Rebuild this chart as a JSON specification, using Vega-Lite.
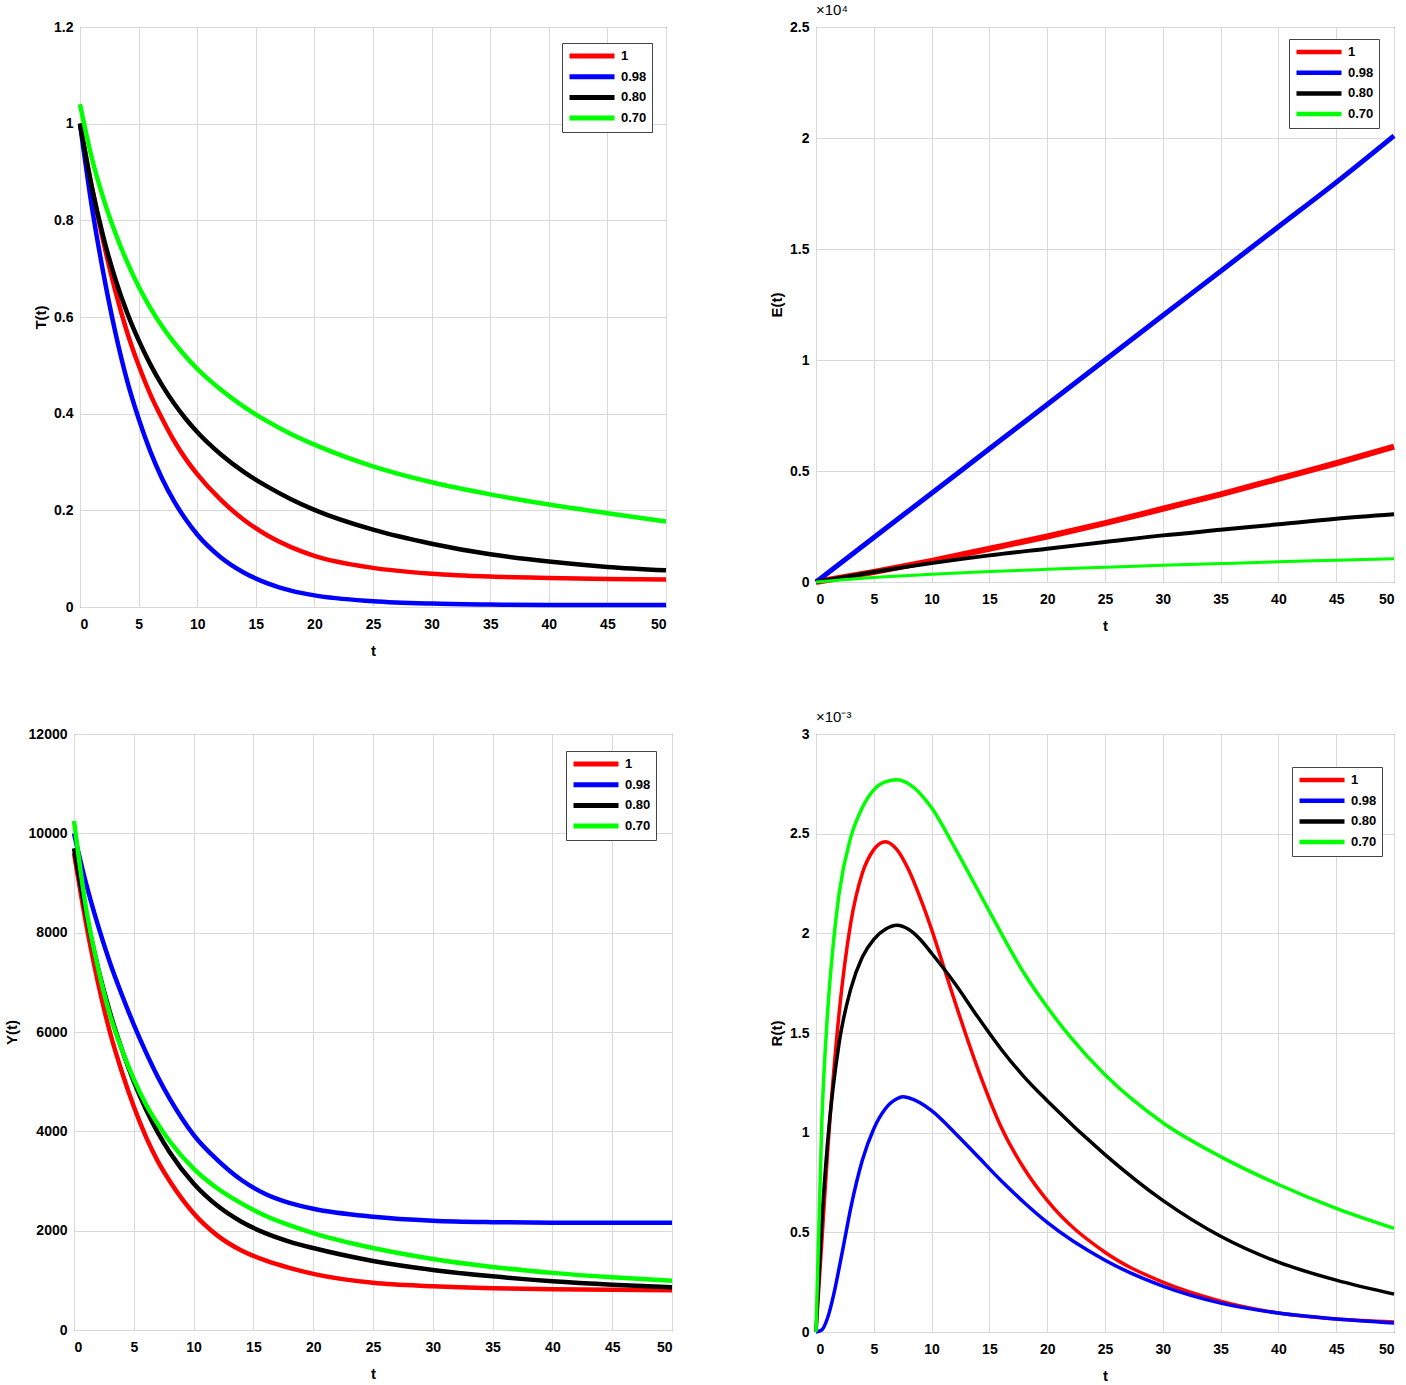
{
  "$schema": "https://vega.github.io/schema/vega-lite/v6.json",
  "padding": {"left": 3, "top": 2, "right": 5, "bottom": 2},
  "background": "white",
  "columns": 2,
  "bounds": "flush",
  "center": {"column": true, "row": false},
  "spacing": {"column": 144, "row": 127},
  "resolve": {"scale": {"color": "independent"}, "legend": {"color": "independent"}},
  "config": {
    "font": "Liberation Sans",
    "view": {"stroke": "#333333", "strokeWidth": 1},
    "axis": {
      "labelFont": "Liberation Sans", "labelFontSize": 14, "labelFontWeight": "bold", "labelColor": "#000000",
      "titleFont": "Liberation Sans", "titleFontSize": 15, "titleFontWeight": "bold", "titleColor": "#000000",
      "gridColor": "#d9d9d9", "gridWidth": 1, "domain": false, "ticks": false
    },
    "axisX": {"labelPadding": 10, "titlePadding": 12},
    "axisY": {"labelPadding": 7, "titlePadding": 5},
    "title": {"font": "Liberation Sans", "fontSize": 15, "fontWeight": "normal", "anchor": "start", "frame": "group", "offset": 2, "color": "#000000"},
    "legend": {
      "orient": "none", "strokeColor": "#444444", "fillColor": "white", "padding": 5, "cornerRadius": 0,
      "symbolType": "stroke", "symbolSize": 2025, "symbolStrokeWidth": 5,
      "labelFont": "Liberation Sans", "labelFontSize": 13, "labelFontWeight": "bold", "labelColor": "#000000",
      "clipHeight": 16, "rowPadding": 4.7, "labelOffset": 4
    }
  },
  "datasets": {
    "T": [
      {"t":0,"alpha":"1","T":1.0},{"t":1,"alpha":"1","T":0.87},{"t":2,"alpha":"1","T":0.755},{"t":3,"alpha":"1","T":0.655},{"t":4,"alpha":"1","T":0.57},{"t":5,"alpha":"1","T":0.5},{"t":6,"alpha":"1","T":0.44},{"t":7,"alpha":"1","T":0.39},{"t":8,"alpha":"1","T":0.345},{"t":9,"alpha":"1","T":0.307},{"t":10,"alpha":"1","T":0.275},{"t":12,"alpha":"1","T":0.222},{"t":14,"alpha":"1","T":0.18},{"t":16,"alpha":"1","T":0.148},{"t":18,"alpha":"1","T":0.124},{"t":20,"alpha":"1","T":0.106},{"t":25,"alpha":"1","T":0.081},{"t":30,"alpha":"1","T":0.069},{"t":35,"alpha":"1","T":0.063},{"t":40,"alpha":"1","T":0.06},{"t":45,"alpha":"1","T":0.058},{"t":50,"alpha":"1","T":0.057},
      {"t":0,"alpha":"0.98","T":1.0},{"t":1,"alpha":"0.98","T":0.83},{"t":2,"alpha":"0.98","T":0.69},{"t":3,"alpha":"0.98","T":0.57},{"t":4,"alpha":"0.98","T":0.47},{"t":5,"alpha":"0.98","T":0.39},{"t":6,"alpha":"0.98","T":0.322},{"t":7,"alpha":"0.98","T":0.266},{"t":8,"alpha":"0.98","T":0.22},{"t":9,"alpha":"0.98","T":0.182},{"t":10,"alpha":"0.98","T":0.15},{"t":12,"alpha":"0.98","T":0.103},{"t":14,"alpha":"0.98","T":0.071},{"t":16,"alpha":"0.98","T":0.049},{"t":18,"alpha":"0.98","T":0.034},{"t":20,"alpha":"0.98","T":0.024},{"t":25,"alpha":"0.98","T":0.012},{"t":30,"alpha":"0.98","T":0.007},{"t":35,"alpha":"0.98","T":0.005},{"t":40,"alpha":"0.98","T":0.004},{"t":45,"alpha":"0.98","T":0.004},{"t":50,"alpha":"0.98","T":0.004},
      {"t":0,"alpha":"0.80","T":1.0},{"t":1,"alpha":"0.80","T":0.87},{"t":2,"alpha":"0.80","T":0.765},{"t":3,"alpha":"0.80","T":0.68},{"t":4,"alpha":"0.80","T":0.61},{"t":5,"alpha":"0.80","T":0.552},{"t":6,"alpha":"0.80","T":0.502},{"t":7,"alpha":"0.80","T":0.459},{"t":8,"alpha":"0.80","T":0.422},{"t":9,"alpha":"0.80","T":0.39},{"t":10,"alpha":"0.80","T":0.362},{"t":12,"alpha":"0.80","T":0.316},{"t":14,"alpha":"0.80","T":0.279},{"t":16,"alpha":"0.80","T":0.249},{"t":18,"alpha":"0.80","T":0.223},{"t":20,"alpha":"0.80","T":0.201},{"t":25,"alpha":"0.80","T":0.16},{"t":30,"alpha":"0.80","T":0.131},{"t":35,"alpha":"0.80","T":0.109},{"t":40,"alpha":"0.80","T":0.094},{"t":45,"alpha":"0.80","T":0.083},{"t":50,"alpha":"0.80","T":0.076},
      {"t":0,"alpha":"0.70","T":1.04},{"t":1,"alpha":"0.70","T":0.93},{"t":2,"alpha":"0.70","T":0.845},{"t":3,"alpha":"0.70","T":0.775},{"t":4,"alpha":"0.70","T":0.715},{"t":5,"alpha":"0.70","T":0.663},{"t":6,"alpha":"0.70","T":0.619},{"t":7,"alpha":"0.70","T":0.581},{"t":8,"alpha":"0.70","T":0.548},{"t":9,"alpha":"0.70","T":0.519},{"t":10,"alpha":"0.70","T":0.493},{"t":12,"alpha":"0.70","T":0.45},{"t":14,"alpha":"0.70","T":0.414},{"t":16,"alpha":"0.70","T":0.384},{"t":18,"alpha":"0.70","T":0.358},{"t":20,"alpha":"0.70","T":0.336},{"t":25,"alpha":"0.70","T":0.291},{"t":30,"alpha":"0.70","T":0.258},{"t":35,"alpha":"0.70","T":0.233},{"t":40,"alpha":"0.70","T":0.212},{"t":45,"alpha":"0.70","T":0.194},{"t":50,"alpha":"0.70","T":0.177}
    ],
    "E": [
      {"t":0,"alpha":"1","E":0},{"t":5,"alpha":"1","E":0.045},{"t":10,"alpha":"1","E":0.095},{"t":15,"alpha":"1","E":0.15},{"t":20,"alpha":"1","E":0.205},{"t":25,"alpha":"1","E":0.265},{"t":30,"alpha":"1","E":0.33},{"t":35,"alpha":"1","E":0.395},{"t":40,"alpha":"1","E":0.465},{"t":45,"alpha":"1","E":0.535},{"t":50,"alpha":"1","E":0.61},
      {"t":0,"alpha":"0.98","E":0},{"t":5,"alpha":"0.98","E":0.2},{"t":10,"alpha":"0.98","E":0.4},{"t":15,"alpha":"0.98","E":0.6},{"t":20,"alpha":"0.98","E":0.8},{"t":25,"alpha":"0.98","E":1.0},{"t":30,"alpha":"0.98","E":1.2},{"t":35,"alpha":"0.98","E":1.4},{"t":40,"alpha":"0.98","E":1.6},{"t":45,"alpha":"0.98","E":1.8},{"t":50,"alpha":"0.98","E":2.01},
      {"t":0,"alpha":"0.80","E":0},{"t":5,"alpha":"0.80","E":0.045},{"t":10,"alpha":"0.80","E":0.085},{"t":15,"alpha":"0.80","E":0.12},{"t":20,"alpha":"0.80","E":0.15},{"t":25,"alpha":"0.80","E":0.18},{"t":30,"alpha":"0.80","E":0.21},{"t":35,"alpha":"0.80","E":0.235},{"t":40,"alpha":"0.80","E":0.26},{"t":45,"alpha":"0.80","E":0.285},{"t":50,"alpha":"0.80","E":0.305},
      {"t":0,"alpha":"0.70","E":0},{"t":5,"alpha":"0.70","E":0.02},{"t":10,"alpha":"0.70","E":0.035},{"t":15,"alpha":"0.70","E":0.047},{"t":20,"alpha":"0.70","E":0.057},{"t":25,"alpha":"0.70","E":0.066},{"t":30,"alpha":"0.70","E":0.075},{"t":35,"alpha":"0.70","E":0.083},{"t":40,"alpha":"0.70","E":0.091},{"t":45,"alpha":"0.70","E":0.098},{"t":50,"alpha":"0.70","E":0.105}
    ],
    "Y": [
      {"t":0,"alpha":"1","Y":9600},{"t":1,"alpha":"1","Y":8200},{"t":2,"alpha":"1","Y":7000},{"t":3,"alpha":"1","Y":6000},{"t":4,"alpha":"1","Y":5200},{"t":5,"alpha":"1","Y":4500},{"t":6,"alpha":"1","Y":3900},{"t":7,"alpha":"1","Y":3400},{"t":8,"alpha":"1","Y":3000},{"t":10,"alpha":"1","Y":2350},{"t":12,"alpha":"1","Y":1900},{"t":14,"alpha":"1","Y":1600},{"t":16,"alpha":"1","Y":1400},{"t":18,"alpha":"1","Y":1250},{"t":20,"alpha":"1","Y":1130},{"t":25,"alpha":"1","Y":950},{"t":30,"alpha":"1","Y":880},{"t":35,"alpha":"1","Y":840},{"t":40,"alpha":"1","Y":820},{"t":45,"alpha":"1","Y":810},{"t":50,"alpha":"1","Y":800},
      {"t":0,"alpha":"0.98","Y":10000},{"t":1,"alpha":"0.98","Y":9000},{"t":2,"alpha":"0.98","Y":8150},{"t":3,"alpha":"0.98","Y":7400},{"t":4,"alpha":"0.98","Y":6750},{"t":5,"alpha":"0.98","Y":6150},{"t":6,"alpha":"0.98","Y":5600},{"t":7,"alpha":"0.98","Y":5100},{"t":8,"alpha":"0.98","Y":4660},{"t":9,"alpha":"0.98","Y":4270},{"t":10,"alpha":"0.98","Y":3930},{"t":12,"alpha":"0.98","Y":3420},{"t":14,"alpha":"0.98","Y":3020},{"t":16,"alpha":"0.98","Y":2740},{"t":18,"alpha":"0.98","Y":2560},{"t":20,"alpha":"0.98","Y":2440},{"t":25,"alpha":"0.98","Y":2280},{"t":30,"alpha":"0.98","Y":2200},{"t":35,"alpha":"0.98","Y":2170},{"t":40,"alpha":"0.98","Y":2160},{"t":45,"alpha":"0.98","Y":2160},{"t":50,"alpha":"0.98","Y":2160},
      {"t":0,"alpha":"0.80","Y":9700},{"t":1,"alpha":"0.80","Y":8400},{"t":2,"alpha":"0.80","Y":7300},{"t":3,"alpha":"0.80","Y":6400},{"t":4,"alpha":"0.80","Y":5650},{"t":5,"alpha":"0.80","Y":5000},{"t":6,"alpha":"0.80","Y":4450},{"t":7,"alpha":"0.80","Y":3980},{"t":8,"alpha":"0.80","Y":3580},{"t":10,"alpha":"0.80","Y":2950},{"t":12,"alpha":"0.80","Y":2500},{"t":14,"alpha":"0.80","Y":2180},{"t":16,"alpha":"0.80","Y":1950},{"t":18,"alpha":"0.80","Y":1780},{"t":20,"alpha":"0.80","Y":1650},{"t":25,"alpha":"0.80","Y":1390},{"t":30,"alpha":"0.80","Y":1210},{"t":35,"alpha":"0.80","Y":1080},{"t":40,"alpha":"0.80","Y":980},{"t":45,"alpha":"0.80","Y":910},{"t":50,"alpha":"0.80","Y":860},
      {"t":0,"alpha":"0.70","Y":10250},{"t":1,"alpha":"0.70","Y":8500},{"t":2,"alpha":"0.70","Y":7300},{"t":3,"alpha":"0.70","Y":6350},{"t":4,"alpha":"0.70","Y":5650},{"t":5,"alpha":"0.70","Y":5050},{"t":6,"alpha":"0.70","Y":4550},{"t":7,"alpha":"0.70","Y":4150},{"t":8,"alpha":"0.70","Y":3800},{"t":10,"alpha":"0.70","Y":3250},{"t":12,"alpha":"0.70","Y":2850},{"t":14,"alpha":"0.70","Y":2550},{"t":16,"alpha":"0.70","Y":2300},{"t":18,"alpha":"0.70","Y":2110},{"t":20,"alpha":"0.70","Y":1950},{"t":25,"alpha":"0.70","Y":1650},{"t":30,"alpha":"0.70","Y":1430},{"t":35,"alpha":"0.70","Y":1270},{"t":40,"alpha":"0.70","Y":1150},{"t":45,"alpha":"0.70","Y":1060},{"t":50,"alpha":"0.70","Y":990}
    ],
    "R": [
      {"t":0,"alpha":"1","R":0},{"t":0.5,"alpha":"1","R":0.45},{"t":1,"alpha":"1","R":0.9},{"t":2,"alpha":"1","R":1.6},{"t":3,"alpha":"1","R":2.05},{"t":4,"alpha":"1","R":2.3},{"t":5,"alpha":"1","R":2.42},{"t":6,"alpha":"1","R":2.46},{"t":7,"alpha":"1","R":2.42},{"t":8,"alpha":"1","R":2.32},{"t":9,"alpha":"1","R":2.18},{"t":10,"alpha":"1","R":2.02},{"t":11,"alpha":"1","R":1.84},{"t":12,"alpha":"1","R":1.66},{"t":14,"alpha":"1","R":1.32},{"t":16,"alpha":"1","R":1.03},{"t":18,"alpha":"1","R":0.82},{"t":20,"alpha":"1","R":0.66},{"t":25,"alpha":"1","R":0.4},{"t":30,"alpha":"1","R":0.25},{"t":35,"alpha":"1","R":0.155},{"t":40,"alpha":"1","R":0.095},{"t":45,"alpha":"1","R":0.065},{"t":50,"alpha":"1","R":0.05},
      {"t":0,"alpha":"0.98","R":0},{"t":0.5,"alpha":"0.98","R":0.01},{"t":1,"alpha":"0.98","R":0.07},{"t":1.5,"alpha":"0.98","R":0.18},{"t":2,"alpha":"0.98","R":0.32},{"t":2.5,"alpha":"0.98","R":0.47},{"t":3,"alpha":"0.98","R":0.62},{"t":3.5,"alpha":"0.98","R":0.75},{"t":4,"alpha":"0.98","R":0.86},{"t":5,"alpha":"0.98","R":1.02},{"t":6,"alpha":"0.98","R":1.12},{"t":7,"alpha":"0.98","R":1.17},{"t":7.5,"alpha":"0.98","R":1.18},{"t":8,"alpha":"0.98","R":1.175},{"t":9,"alpha":"0.98","R":1.15},{"t":10,"alpha":"0.98","R":1.11},{"t":12,"alpha":"0.98","R":1.0},{"t":14,"alpha":"0.98","R":0.88},{"t":16,"alpha":"0.98","R":0.76},{"t":18,"alpha":"0.98","R":0.65},{"t":20,"alpha":"0.98","R":0.55},{"t":25,"alpha":"0.98","R":0.36},{"t":30,"alpha":"0.98","R":0.23},{"t":35,"alpha":"0.98","R":0.145},{"t":40,"alpha":"0.98","R":0.095},{"t":45,"alpha":"0.98","R":0.065},{"t":50,"alpha":"0.98","R":0.045},
      {"t":0,"alpha":"0.80","R":0},{"t":0.5,"alpha":"0.80","R":0.55},{"t":1,"alpha":"0.80","R":0.95},{"t":2,"alpha":"0.80","R":1.45},{"t":3,"alpha":"0.80","R":1.72},{"t":4,"alpha":"0.80","R":1.88},{"t":5,"alpha":"0.80","R":1.97},{"t":6,"alpha":"0.80","R":2.02},{"t":7,"alpha":"0.80","R":2.04},{"t":8,"alpha":"0.80","R":2.02},{"t":9,"alpha":"0.80","R":1.97},{"t":10,"alpha":"0.80","R":1.9},{"t":12,"alpha":"0.80","R":1.75},{"t":14,"alpha":"0.80","R":1.58},{"t":16,"alpha":"0.80","R":1.42},{"t":18,"alpha":"0.80","R":1.28},{"t":20,"alpha":"0.80","R":1.16},{"t":25,"alpha":"0.80","R":0.89},{"t":30,"alpha":"0.80","R":0.66},{"t":35,"alpha":"0.80","R":0.48},{"t":40,"alpha":"0.80","R":0.35},{"t":45,"alpha":"0.80","R":0.26},{"t":50,"alpha":"0.80","R":0.19},
      {"t":0,"alpha":"0.70","R":0},{"t":0.5,"alpha":"0.70","R":1.05},{"t":1,"alpha":"0.70","R":1.6},{"t":1.5,"alpha":"0.70","R":1.95},{"t":2,"alpha":"0.70","R":2.2},{"t":3,"alpha":"0.70","R":2.48},{"t":4,"alpha":"0.70","R":2.63},{"t":5,"alpha":"0.70","R":2.72},{"t":6,"alpha":"0.70","R":2.76},{"t":7,"alpha":"0.70","R":2.77},{"t":8,"alpha":"0.70","R":2.75},{"t":10,"alpha":"0.70","R":2.63},{"t":12,"alpha":"0.70","R":2.43},{"t":15,"alpha":"0.70","R":2.11},{"t":18,"alpha":"0.70","R":1.8},{"t":20,"alpha":"0.70","R":1.63},{"t":22,"alpha":"0.70","R":1.48},{"t":25,"alpha":"0.70","R":1.29},{"t":30,"alpha":"0.70","R":1.05},{"t":35,"alpha":"0.70","R":0.88},{"t":40,"alpha":"0.70","R":0.74},{"t":45,"alpha":"0.70","R":0.62},{"t":50,"alpha":"0.70","R":0.52}
    ]
  },
  "concat": [
    {
      "width": 586, "height": 580,
      "data": {"name": "T"},
      "mark": {"type": "line", "strokeWidth": 4.5, "interpolate": "monotone"},
      "encoding": {
        "x": {"field": "t", "type": "quantitative", "scale": {"domain": [0, 50], "nice": false}, "axis": {"values": [0,5,10,15,20,25,30,35,40,45,50], "title": "t"}},
        "y": {"field": "T", "type": "quantitative", "scale": {"domain": [0, 1.2], "nice": false}, "axis": {"values": [0,0.2,0.4,0.6,0.8,1,1.2], "format": ".1~f", "title": "T(t)", "titlePadding": 5}},
        "color": {"field": "alpha", "type": "nominal", "scale": {"domain": ["1","0.98","0.80","0.70"], "range": ["#ff0000","#0000ff","#000000","#00ff00"]}, "legend": {"title": null, "legendX": 482, "legendY": 16}}
      }
    },
    {
      "width": 578, "height": 555,
      "title": {"text": "×10⁴"},
      "data": {"name": "E"},
      "mark": {"type": "line", "interpolate": "monotone"},
      "encoding": {
        "x": {"field": "t", "type": "quantitative", "scale": {"domain": [0, 50], "nice": false}, "axis": {"values": [0,5,10,15,20,25,30,35,40,45,50], "title": "t"}},
        "y": {"field": "E", "type": "quantitative", "scale": {"domain": [0, 2.5], "nice": false}, "axis": {"values": [0,0.5,1,1.5,2,2.5], "format": ".1~f", "title": "E(t)", "titlePadding": 5}},
        "color": {"field": "alpha", "type": "nominal", "scale": {"domain": ["1","0.98","0.80","0.70"], "range": ["#ff0000","#0000ff","#000000","#00ff00"]}, "legend": {"title": null, "legendX": 473, "legendY": 12, "symbolStrokeWidth": 4.5}},
        "strokeWidth": {"field": "alpha", "type": "ordinal", "scale": {"domain": ["1","0.98","0.80","0.70"], "range": [6, 3, 3, 3]}, "legend": null}
      }
    },
    {
      "width": 598, "height": 596,
      "data": {"name": "Y"},
      "mark": {"type": "line", "strokeWidth": 4.5, "interpolate": "monotone"},
      "encoding": {
        "x": {"field": "t", "type": "quantitative", "scale": {"domain": [0, 50], "nice": false}, "axis": {"values": [0,5,10,15,20,25,30,35,40,45,50], "title": "t"}},
        "y": {"field": "Y", "type": "quantitative", "scale": {"domain": [0, 12000], "nice": false}, "axis": {"values": [0,2000,4000,6000,8000,10000,12000], "format": "d", "title": "Y(t)", "titlePadding": 9}},
        "color": {"field": "alpha", "type": "nominal", "scale": {"domain": ["1","0.98","0.80","0.70"], "range": ["#ff0000","#0000ff","#000000","#00ff00"]}, "legend": {"title": null, "legendX": 492, "legendY": 17}}
      }
    },
    {
      "width": 578, "height": 598,
      "title": {"text": "×10⁻³"},
      "data": {"name": "R"},
      "mark": {"type": "line", "strokeWidth": 3.5, "interpolate": "monotone"},
      "encoding": {
        "x": {"field": "t", "type": "quantitative", "scale": {"domain": [0, 50], "nice": false}, "axis": {"values": [0,5,10,15,20,25,30,35,40,45,50], "title": "t"}},
        "y": {"field": "R", "type": "quantitative", "scale": {"domain": [0, 3], "nice": false}, "axis": {"values": [0,0.5,1,1.5,2,2.5,3], "format": ".1~f", "title": "R(t)", "titlePadding": 5}},
        "color": {"field": "alpha", "type": "nominal", "scale": {"domain": ["1","0.98","0.80","0.70"], "range": ["#ff0000","#0000ff","#000000","#00ff00"]}, "legend": {"title": null, "legendX": 476, "legendY": 33, "symbolStrokeWidth": 4.5}}
      }
    }
  ]
}
